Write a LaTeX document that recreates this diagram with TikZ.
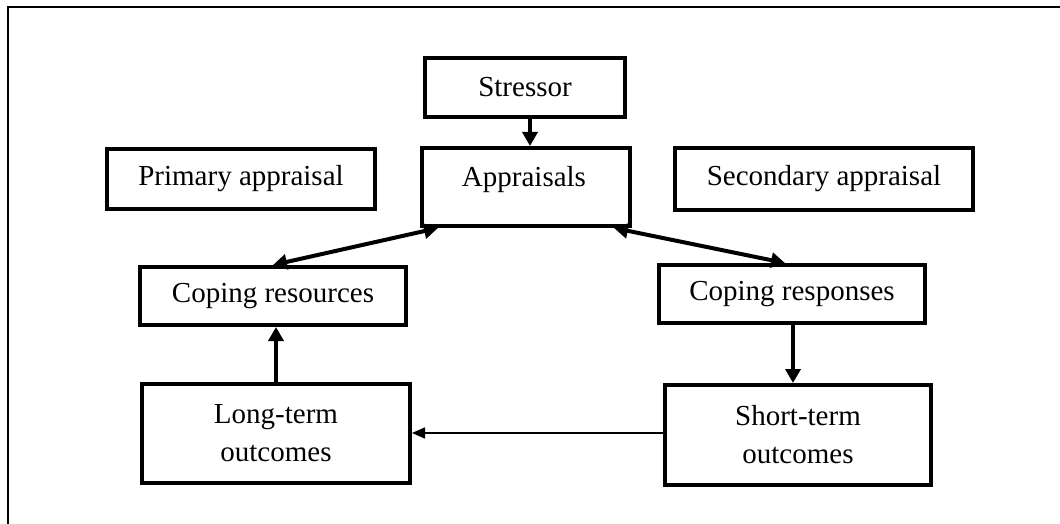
\documentclass[tikz,border=0pt]{standalone}
\usepackage{fontspec}
\setmainfont{Liberation Serif}
\usetikzlibrary{arrows.meta}
\begin{document}
\begin{tikzpicture}[x=1pt,y=-1pt,
  box/.style={draw, line width=4pt, inner sep=0pt, align=center, font=\fontsize{29}{38}\selectfont},
  lbl/.style={inner sep=0pt, font=\fontsize{29}{38}\selectfont},
  bigarrow/.style={line width=4pt, -{Triangle[length=14pt,width=15pt]}},
  bothway/.style={line width=4pt, {Triangle[length=14pt,width=15pt]}-{Triangle[length=14pt,width=15pt]}},
  thinarrow/.style={line width=1.5pt, -{Triangle[length=13pt,width=11pt]}},
  frameline/.style={line width=2pt}
]
\useasboundingbox (0,0) rectangle (1060,524);
\draw[frameline] (1062,7) -- (8,7) -- (8,526);

\node[box, minimum width=200pt, minimum height=59pt] (stressor) at (525,87.5) {Stressor};
\node[box, minimum width=208pt, minimum height=78pt] (appr) at (526,187) {};
\node[lbl] (apprtext) at (524,180) {Appraisals};
\node[box, minimum width=268pt, minimum height=60pt] (prim) at (241,179) {Primary appraisal};
\node[box, minimum width=298pt, minimum height=62pt] (sec) at (824,179) {Secondary appraisal};
\node[box, minimum width=266pt, minimum height=58pt] (cres) at (273,296) {Coping resources};
\node[box, minimum width=266pt, minimum height=58pt] (cresp) at (792,294) {Coping responses};
\node[box, minimum width=268pt, minimum height=99pt] (long) at (276,433.5) {Long-term\\outcomes};
\node[box, minimum width=266pt, minimum height=100pt] (short) at (798,435) {Short-term\\outcomes};

\draw[bigarrow] ([xshift=5pt]stressor.south) -- ([xshift=4pt]appr.north);
\draw[bothway] (cres.north) -- ([xshift=18pt]appr.south west);
\draw[bothway] ([xshift=-18pt]appr.south east) -- ([xshift=-7pt]cresp.north);
\draw[bigarrow] (long.north) -- (long.north |- cres.south);
\draw[bigarrow] ([xshift=1pt]cresp.south) -- ([xshift=1pt]cresp.south |- short.north);
\draw[thinarrow] ([yshift=2pt]short.west) -- ([yshift=2pt]short.west -| long.east);
\end{tikzpicture}
\end{document}
